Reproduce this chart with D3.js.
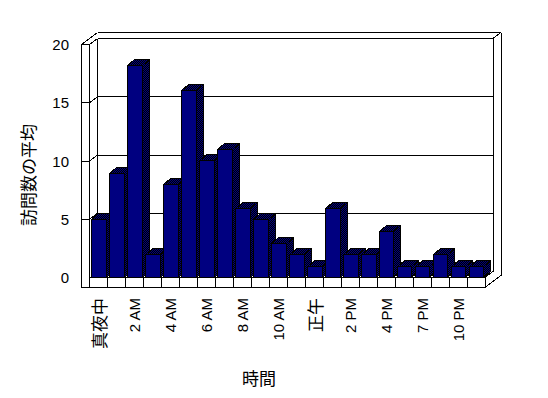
<!DOCTYPE html>
<html>
<head>
<meta charset="utf-8">
<script src="https://cdn.jsdelivr.net/npm/d3@7"></script>
<style>
  body { margin: 0; background: #fff; }
  svg text { fill: #000; }
</style>
</head>
<body>
<div id="chart"></div>
<script>
// hours shown on the category axis (6 PM and 9 PM have no entry)
const hours = ["真夜中", "1 AM", "2 AM", "3 AM", "4 AM", "5 AM", "6 AM", "7 AM", "8 AM", "9 AM",
  "10 AM", "11 AM", "正午", "1 PM", "2 PM", "3 PM", "4 PM", "5 PM", "7 PM", "8 PM", "10 PM", "11 PM"];
const visits = [5, 9, 18.2, 2, 8, 16.1, 10.1, 11, 6, 5, 3, 2, 1, 6, 2, 2, 4, 1, 1, 2, 1, 1];
const yTicks = [0, 5, 10, 15, 20];
const shownLabels = ["真夜中", "2 AM", "4 AM", "6 AM", "8 AM", "10 AM", "正午", "2 PM", "4 PM", "7 PM", "10 PM"];

const W = 548, H = 398;
const wallOut = 81.5, wallIn = 89.5, floorRight = 485, floorBottom = 287.5;
const dep = [8, -6];      // oblique offset of one depth step
const barDep = [7, -6];

const svg = d3.select("#chart").append("svg")
  .attr("width", W).attr("height", H)
  .style("shape-rendering", "crispEdges");

const defs = svg.append("defs");
const pat = defs.append("pattern").attr("id", "dither")
  .attr("width", 2).attr("height", 2).attr("patternUnits", "userSpaceOnUse");
pat.append("rect").attr("width", 2).attr("height", 2).attr("fill", "#000");
pat.append("rect").attr("width", 1).attr("height", 1).attr("fill", "#000080");
pat.append("rect").attr("x", 1).attr("y", 1).attr("width", 1).attr("height", 1).attr("fill", "#000080");

let x = d3.scaleBand().domain(hours).range([wallIn, floorRight]);
let y = d3.scaleLinear().domain([0, 20]).range([277.5, 44.5]);

const line = (x1, y1, x2, y2) => svg.append("line")
  .attr("x1", x1).attr("y1", y1).attr("x2", x2).attr("y2", y2)
  .attr("stroke", "#000").attr("stroke-width", 1);

// back wall
const bx0 = wallIn + dep[0], bx1 = floorRight + dep[0];
const bxo = floorRight + 2 * dep[0];
line(bx0, y(20) + dep[1], bx1, y(20) + dep[1]);
line(wallOut + 2 * dep[0], y(20) + 2 * dep[1], bxo, y(20) + 2 * dep[1]);
line(bx1, y(20) + dep[1], bxo, y(20) + 2 * dep[1]);
line(bx1, y(20) + dep[1], bx1, y(0) + dep[1]);
line(bxo, y(20) + 2 * dep[1], bxo, floorBottom + 2 * dep[1]);
line(bx0, y(20) + dep[1], bx0, y(0) + dep[1]);

// gridlines on back wall and left wall
yTicks.slice(1, -1).forEach(v => {
  line(bx0, y(v) + dep[1], bx1, y(v) + dep[1]);
  line(wallIn, y(v), bx0, y(v) + dep[1]);
  line(wallOut, y(v), wallIn, y(v));
});

// left wall
line(wallOut, y(20), wallIn, y(20));
line(wallOut, y(20), wallOut + 2 * dep[0], y(20) + 2 * dep[1]);
line(wallIn, y(20), bx0, y(20) + dep[1]);
line(wallOut, y(20), wallOut, floorBottom);
line(wallIn, y(20), wallIn, y(0));

// floor front and right side
line(wallIn, y(0), floorRight, y(0));
line(wallOut, floorBottom, floorRight, floorBottom);
line(floorRight, y(0), floorRight, floorBottom);
line(floorRight, y(0), bx1, y(0) + dep[1]);
line(floorRight, floorBottom, bxo, floorBottom + 2 * dep[1]);
hours.forEach(h => line(x(h), y(0), x(h), floorBottom));

// bars
const bw = x.bandwidth() * 0.82;
const off = (x.bandwidth() - bw) / 2;
const bars = svg.append("g").attr("stroke", "#000").attr("stroke-width", 1);
hours.forEach((h, i) => {
  const x0 = Math.round(x(h) + off) + 0.5, x1 = Math.round(x(h) + off + bw) + 0.5;
  const yt = Math.round(y(visits[i])) + 0.5, yb = y(0);
  const [dx, dy] = barDep;
  bars.append("polygon").attr("fill", "url(#dither)")
    .attr("points", [[x1, yb], [x1, yt], [x1 + dx, yt + dy], [x1 + dx, yb + dy]].join(" "));
  bars.append("polygon").attr("fill", "url(#dither)")
    .attr("points", [[x0, yt], [x0 + dx, yt + dy], [x1 + dx, yt + dy], [x1, yt]].join(" "));
  bars.append("rect").attr("fill", "#000080")
    .attr("x", x0).attr("y", yt).attr("width", x1 - x0).attr("height", yb - yt);
});

const latin = "'Liberation Sans', Arial, sans-serif";
const cjk = "'Noto Sans CJK JP', sans-serif";
const isCjk = s => /[^\x00-\x7F]/.test(s);

// y tick labels
svg.append("g").selectAll("text").data(yTicks).join("text")
  .attr("x", 69).attr("y", d => y(d))
  .attr("text-anchor", "end").attr("dominant-baseline", "central")
  .style("font-family", latin).style("font-size", "15px")
  .text(d => d);

// category labels, rotated
svg.append("g").selectAll("text").data(shownLabels).join("text")
  .attr("transform", d => `translate(${x(d) + x.bandwidth() / 2},298) rotate(-90)`)
  .attr("text-anchor", "end").attr("dominant-baseline", "central")
  .style("font-family", d => isCjk(d) ? cjk : latin)
  .style("font-size", d => isCjk(d) ? "17px" : "15px")
  .text(d => d);

// axis titles
svg.append("text")
  .attr("transform", "translate(27,175) rotate(-90)")
  .attr("text-anchor", "middle").attr("dominant-baseline", "central")
  .style("font-family", cjk).style("font-size", "17px")
  .text("訪問数の平均");

svg.append("text")
  .attr("x", 259).attr("y", 377)
  .attr("text-anchor", "middle").attr("dominant-baseline", "central")
  .style("font-family", cjk).style("font-size", "17px")
  .text("時間");
</script>
</body>
</html>
